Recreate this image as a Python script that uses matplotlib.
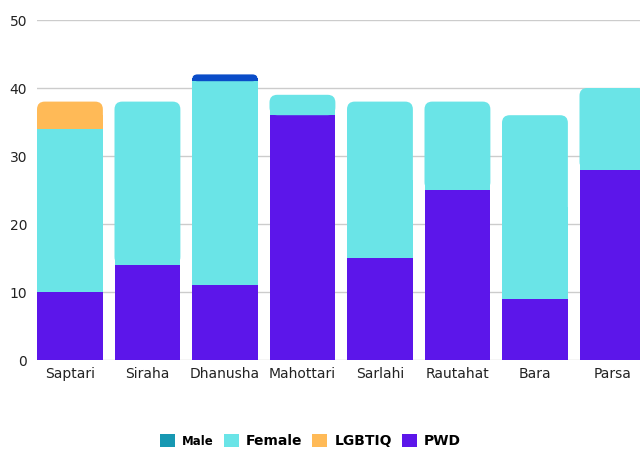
import matplotlib.pyplot as plt
import numpy as np
from matplotlib.patches import FancyBboxPatch, Patch

districts = ['Saptari', 'Siraha', 'Dhanusha', 'Mahottari', 'Sarlahi', 'Rautahat', 'Bara', 'Parsa']
pwd = [10, 14, 11, 36, 15, 25, 9, 28]
female = [24, 24, 30, 3, 23, 13, 27, 12]
lgbtiq = [4, 0, 0, 0, 0, 0, 0, 0]
male = [0, 0, 1, 0, 0, 0, 0, 0]

series = [('PWD', pwd, '#5c16ea'), ('Female', female, '#6ae4e7'),
          ('LGBTIQ', lgbtiq, '#ffba57'), ('Male', male, '#0a4cc8')]
legend_colors = {'Male': '#1798b2', 'Female': '#6ae4e7', 'LGBTIQ': '#ffba57', 'PWD': '#5c16ea'}

plt.rcParams['font.family'] = ['DejaVu Sans']

fig = plt.figure(figsize=(6.4, 4.5), dpi=100)
ax = fig.add_axes([37 / 640, 90 / 450, 603 / 640, 340 / 450])
ax.set_axisbelow(True)

x = np.arange(len(districts))
w = 0.85
bottom = np.zeros(len(districts))
tops = {}
for name, vals, col in series:
    vals = np.array(vals, dtype=float)
    bars = ax.bar(x, vals, w, bottom=bottom, color=col, linewidth=0, zorder=3)
    for i, b in enumerate(bars):
        if vals[i] > 0:
            tops[i] = (b, col)
    bottom += vals

ax.set_xlim(-0.425, -0.425 + 603 / 77.5)
ax.set_ylim(0, 50)

# round the top corners of each stack
aspect = (50 / 340) / (1 / 77.5)
for i, (b, col) in tops.items():
    bx, by, bw, bh = b.get_x(), b.get_y(), b.get_width(), b.get_height()
    b.set_visible(False)
    r = 0.1 if bh > 1.5 else 0.07
    ax.add_patch(FancyBboxPatch((bx, by), bw, bh, boxstyle='round,pad=0,rounding_size=%g' % r,
                                mutation_aspect=aspect, facecolor=col, linewidth=0, zorder=3))
    ax.add_patch(plt.Rectangle((bx, by), bw, bh / 2, facecolor=col, linewidth=0, zorder=3))

ax.set_yticks([0, 10, 20, 30, 40, 50])
ax.set_xticks(x)
ax.set_xticklabels(districts)
ax.grid(axis='y', color='#cccccc', linewidth=1, zorder=0)
for s in ax.spines.values():
    s.set_visible(False)
ax.tick_params(length=0, labelsize=10, colors='#222222')
ax.tick_params(axis='y', pad=7)
ax.tick_params(axis='x', pad=5)

handles = [Patch(facecolor=legend_colors[n], label=n) for n in ['Male', 'Female', 'LGBTIQ', 'PWD']]
leg = fig.legend(handles=handles, loc='center', bbox_to_anchor=(0.485, 0.02), ncol=4, frameon=False,
                 handlelength=1.1, handleheight=1.1, handletextpad=0.5, columnspacing=0.7,
                 prop={'weight': 'bold', 'size': 10})
leg.get_texts()[0].set_fontsize(8.5)

fig.savefig('out.png', dpi=100)
